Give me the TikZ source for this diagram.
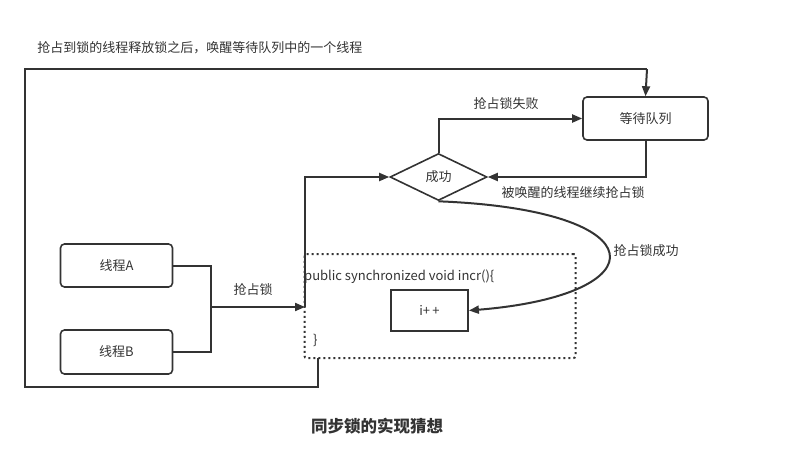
\documentclass[tikz,border=0pt]{standalone}
\usepackage{fontspec}
\setmainfont{Noto Sans CJK SC}
\usetikzlibrary{arrows.meta,shapes.geometric}
\definecolor{ln}{HTML}{333333}
\tikzset{
  every node/.style={font=\fontsize{13}{15}\selectfont, text=ln},
  rbox/.style={draw=ln, line width=1.6pt, rounded corners=4pt, inner sep=0pt},
  sbox/.style={draw=ln, line width=1.8pt, inner sep=0pt},
  conn/.style={draw=ln, line width=2pt},
  arr/.style={conn, -{Triangle[length=10pt,width=8pt]}},
  lbl/.style={inner sep=1pt}
}
\begin{document}
\begin{tikzpicture}[x=1pt,y=-1pt]
\useasboundingbox (0,0) rectangle (801,474);
% nodes
\node[rbox, minimum width=112pt, minimum height=43pt] (A) at (116.5,265.5) {线程A};
\node[rbox, minimum width=112pt, minimum height=44pt] (B) at (116.5,352) {线程B};
\node[rbox, minimum width=125pt, minimum height=43pt] (Q) at (645.5,118.5) {等待队列};
\node[diamond, aspect=2.05, draw=ln, line width=1.6pt, minimum width=97pt, minimum height=47pt, inner sep=0pt] (D) at (438.5,177) {成功};
\node[draw=ln, line width=2pt, dash pattern=on 2pt off 3pt, rounded corners=2pt, minimum width=271pt, minimum height=104pt, inner sep=0pt] (C) at (440,306) {};
\node[sbox, minimum width=77pt, minimum height=41pt] (I) at (429.5,310.5) {i+\,+};
\node[anchor=west, inner sep=0pt] (code) at (304,277) {public synchronized void incr()\{};
\node[anchor=west, inner sep=0pt] (cb) at (313,340) {\}};
\coordinate (J) at (211,307);
\coordinate (E) at (305,307);
\coordinate (L1) at (318,387);
\coordinate (L2) at (25,387);
\coordinate (L3) at (25,69);
\coordinate (L4) at (647,69);
% connectors
\draw[conn] (A.east) -| (J);
\draw[conn] (B.east) -| (J);
\draw[arr] (J) -- (E);
\node[lbl] (t0) at (253,290) {抢占锁};
\draw[arr] (E) |- (D.west);
\draw[arr] (D.north) |- (Q.west);
\node[lbl] (t4) at (506,104) {抢占锁失败};
\draw[arr] (Q.south) |- (D.east);
\node[lbl] (t1) at (573,193) {被唤醒的线程继续抢占锁};
\draw[arr] (D.south) .. controls (660,210) and (660,295) .. (I.east);
\node[lbl] (t2) at (646,251) {抢占锁成功};
\draw[conn] (318,358) -- (L1) -- (L2) -- (L3) -- (L4);
\draw[arr] (L4) -- (Q.north);
\node[lbl] (t3) at (200,48) {抢占到锁的线程释放锁之后，唤醒等待队列中的一个线程};
\node[lbl, font=\fontsize{16.5}{19}\selectfont\bfseries] (title) at (377,426) {同步锁的实现猜想};
\end{tikzpicture}
\end{document}
